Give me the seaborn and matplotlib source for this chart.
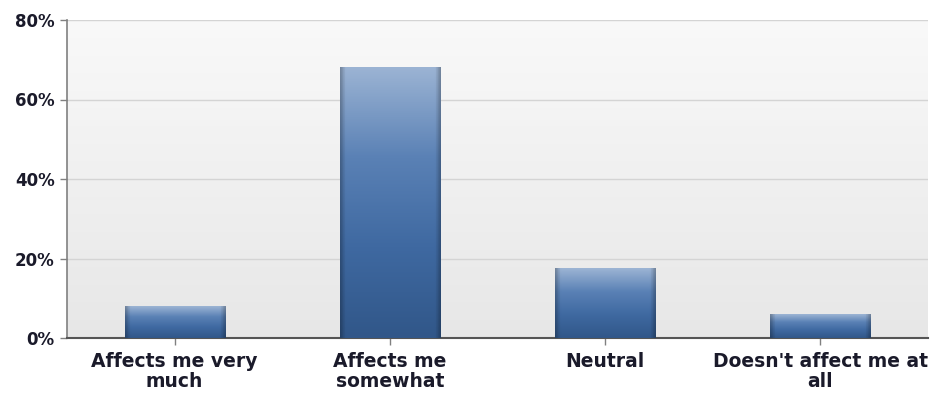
import numpy as np
import pandas as pd
import matplotlib
matplotlib.use("Agg")
import matplotlib.pyplot as plt
from matplotlib.colors import LinearSegmentedColormap
from matplotlib.ticker import FuncFormatter
import seaborn as sns

categories = ["Affects me very\nmuch", "Affects me\nsomewhat", "Neutral", "Doesn't affect me at\nall"]
shares = [8.0, 68.2, 17.6, 6.0]
y_ticks = [0, 20, 40, 60, 80]

df = pd.DataFrame({"category": categories, "share": shares})

sns.set_style("white")
plt.rcParams["font.family"] = ["DejaVu Sans"]

fig = plt.figure(figsize=(9.36, 3.98), dpi=100)
ax = fig.add_axes([67 / 936, 1 - 338 / 398, (928 - 67) / 936, (338 - 20) / 398])

sns.barplot(data=df, x="category", y="share", ax=ax, width=0.465,
            color="#4a72a8", edgecolor="none", zorder=3)

# plot-area background: soft vertical grey gradient
bg = LinearSegmentedColormap.from_list("bg", ["#e7e7e7", "#f9f9f9"])
ax.imshow(np.linspace(0, 1, 256).reshape(-1, 1), cmap=bg, origin="lower",
          aspect="auto", extent=[0, 1, 0, 1], transform=ax.transAxes, zorder=0)

# each bar gets its own light-to-dark gradient with darker side edges
bar_cmap = LinearSegmentedColormap.from_list(
    "bar", ["#315789", "#3f69a1", "#5a81b5", "#9cb4d4"])
rows = np.linspace(0, 1, 128).reshape(-1, 1)
cols = np.linspace(0, 1, 64).reshape(1, -1)
for patch in ax.patches:
    x0, y0 = patch.get_x(), patch.get_y()
    w, h = patch.get_width(), patch.get_height()
    rgba = bar_cmap(np.repeat(rows, 64, axis=1))
    edge = np.clip(np.minimum(cols, 1 - cols) / 0.05, 0, 1)
    shade = 0.75 + 0.25 * edge
    rgba[..., :3] *= shade[..., None]
    img = ax.imshow(rgba, origin="lower", aspect="auto",
                    extent=[x0, x0 + w, y0, y0 + h], zorder=4)
    img.set_clip_path(patch)
    patch.set_facecolor("none")
ax.set_xlim(-0.5, 3.5)
ax.set_ylim(0, 80)

ax.set_yticks(y_ticks)
ax.yaxis.set_major_formatter(FuncFormatter(lambda v, _: f"{v:.0f}%"))
ax.yaxis.grid(True, color="#d4d4d4", linewidth=1.0, zorder=1)
ax.set_axisbelow(True)

for side in ("top", "right"):
    ax.spines[side].set_visible(False)
ax.spines["left"].set_color("#808080")
ax.spines["left"].set_linewidth(1.2)
ax.spines["bottom"].set_color("#555555")
ax.spines["bottom"].set_linewidth(1.5)

ax.tick_params(axis="y", which="both", left=True, length=5, width=1,
               color="#808080", pad=4, labelsize=12)
ax.tick_params(axis="x", which="both", bottom=True, length=5, width=1,
               color="#808080", pad=5, labelsize=13.5)
for lbl in ax.get_yticklabels() + ax.get_xticklabels():
    lbl.set_fontweight("bold")
    lbl.set_color("#1a1a2a")
for lbl in ax.get_xticklabels():
    lbl.set_linespacing(1.05)

ax.set_xlabel("")
ax.set_ylabel("")

fig.savefig("out.png", dpi=100)
